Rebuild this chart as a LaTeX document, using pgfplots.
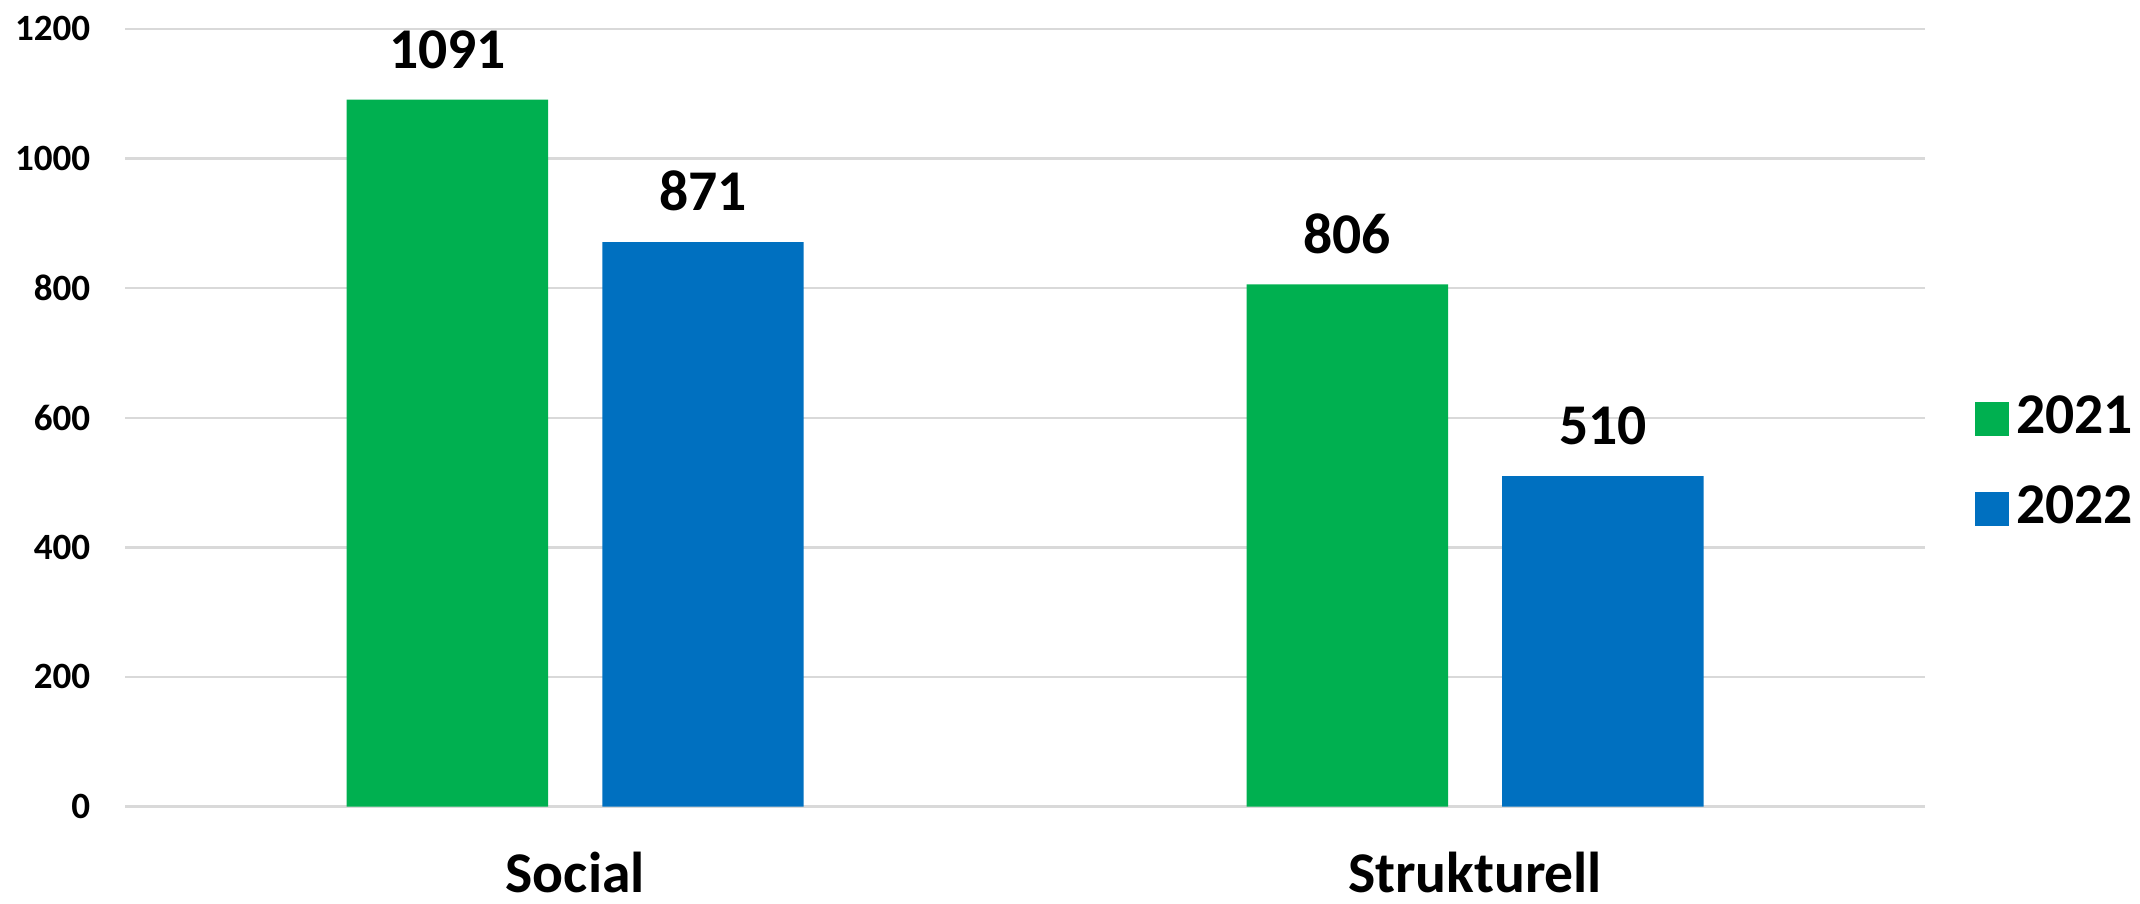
\documentclass[border=0pt]{standalone}
\usepackage{pgfplots}
\pgfplotsset{compat=1.18}
\usepackage{fontspec}
\setmainfont{Carlito}
\definecolor{cgreen}{HTML}{00B050}
\definecolor{cblue}{HTML}{0070C0}
\definecolor{cgrid}{HTML}{D9D9D9}
\begin{document}
\begin{tikzpicture}
\begin{axis}[
  scale only axis,
  width=359.2pt, height=155.2pt,
  ybar=10.8pt, bar width=40.2pt,
  xmin=-0.5, xmax=1.5,
  ymin=0, ymax=1200,
  xtick=data, xticklabels={Social, Strukturell},
  ytick={0,200,...,1200},
  axis line style={draw=none},
  major tick length=0pt,
  ymajorgrids, grid style={cgrid, line width=0.5pt},
  /pgf/number format/assume math mode=true,
  /pgf/number format/1000 sep={},
  yticklabel style={font=\fontsize{7.4}{8}\selectfont\bfseries, inner xsep=3pt, xshift=-3.8pt},
  xticklabel style={font=\fontsize{11.5}{13}\selectfont\bfseries, anchor=base, inner xsep=0pt, inner ysep=2pt, yshift=-17.2pt},
  nodes near coords,
  every node near coord/.append style={font=\fontsize{11.5}{13}\selectfont\bfseries, yshift=2.6pt},
  legend style={at={(1,0.441)}, anchor=west, xshift=9.8pt, draw=none, fill=none,
    font=\fontsize{11.5}{13}\selectfont\bfseries, row sep=6.1pt,
    inner sep=0pt, nodes={inner sep=1.4pt}},
  legend cell align=left,
  legend image code/.code={\fill[#1] (0pt,-3.4pt) rectangle (6.8pt,3.4pt);},
]
\addplot[fill=cgreen, draw=none] coordinates {(0,1091) (1,806)};
\addplot[fill=cblue, draw=none] coordinates {(0,871) (1,510)};
\legend{2021, 2022}
\end{axis}
\end{tikzpicture}
\end{document}
